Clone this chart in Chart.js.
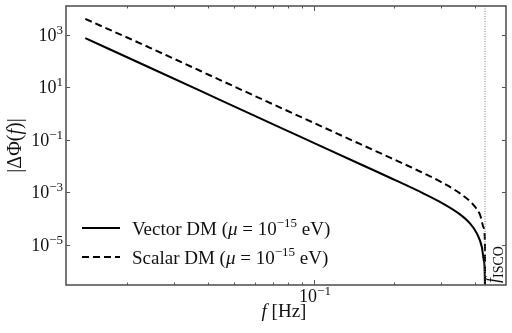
<!DOCTYPE html>
<html>
<head>
<meta charset="utf-8">
<script src="https://cdn.jsdelivr.net/npm/chart.js@4.4.1/dist/chart.umd.min.js"></script>
<style>
  html, body { margin: 0; padding: 0; background: #fff; }
  #wrap { width: 512px; height: 333px; position: relative; }
</style>
</head>
<body>
<div id="wrap"><canvas id="phaseChart"></canvas></div>
<script>
// values
const freqVector  = [0.0139, 0.0243, 0.0374, 0.0575, 0.0887, 0.1486, 0.1927, 0.2494, 0.2965, 0.3523, 0.3838, 0.4074, 0.4256, 0.4334, 0.4370, 0.4372];
const phaseVector = [749, 55.6, 7.43, 0.991, 0.132, 0.0119, 3.56e-3, 1.045e-3, 4.28e-4, 1.43e-4, 6.52e-5, 2.71e-5, 7.96e-6, 2.34e-6, 2.5e-7, 1e-8];

const freqScalar  = [0.0139, 0.0243, 0.0374, 0.0575, 0.0887, 0.1486, 0.1927, 0.2494, 0.2965, 0.3523, 0.3939, 0.4184, 0.4334, 0.4370, 0.4372];
const phaseScalar = [4057, 321, 42.8, 5.71, 0.762, 0.0692, 0.0209, 6.18e-3, 2.58e-3, 9.0e-4, 3.44e-4, 1.43e-4, 4.21e-5, 7.96e-6, 1e-8];

const seriesLabels = ['Vector DM', 'Scalar DM'];
const fISCO = 0.4372;

const xRange = [0.01177, 0.524];
const yRange = [2.9e-7, 1.26e4];

const yTickValues = [1e3, 1e1, 1e-1, 1e-3, 1e-5];
const yTickExponents = ['3', '1', '\u22121', '\u22123', '\u22125'];
const xMajorTicks = [0.1];
const xTickExponents = ['\u22121'];
const xMinorTicks = [0.02, 0.03, 0.04, 0.05, 0.06, 0.07, 0.08, 0.09, 0.2, 0.3, 0.4];

const SERIF = '"Liberation Serif", "DejaVu Serif", serif';
const frameColor = '#555';

function toPoints(xs, ys) {
    return xs.map((x, i) => ({ x: x, y: ys[i] }));
}

// draw a list of text pieces one after another; each piece {t, font, dy}
function drawPieces(ctx, pieces, x, y, align) {
    let total = 0;
    pieces.forEach(p => { ctx.font = p.font; p.w = ctx.measureText(p.t).width; total += p.w; });
    let cx = x;
    if (align === 'right') cx = x - total;
    else if (align === 'center') cx = x - total / 2;
    ctx.textAlign = 'left';
    ctx.textBaseline = 'alphabetic';
    pieces.forEach(p => {
        ctx.font = p.font;
        ctx.fillText(p.t, cx, y + (p.dy || 0));
        cx += p.w;
    });
}

const decorPlugin = {
    id: 'decor',
    afterDatasetsDraw(chart) {
        const { ctx, chartArea: a, scales } = chart;
        const xs = scales.x, ys = scales.y;
        ctx.save();

        // fISCO dotted line
        const xi = xs.getPixelForValue(fISCO);
        ctx.strokeStyle = '#777';
        ctx.lineWidth = 1;
        ctx.setLineDash([1, 1.5]);
        ctx.beginPath();
        ctx.moveTo(xi, a.top);
        ctx.lineTo(xi, a.bottom);
        ctx.stroke();
        ctx.setLineDash([]);

        // frame
        ctx.strokeStyle = frameColor;
        ctx.lineWidth = 1.6;
        ctx.strokeRect(a.left, a.top, a.right - a.left, a.bottom - a.top);

        // inward ticks
        ctx.lineWidth = 1;
        ctx.beginPath();
        yTickValues.forEach(v => {
            const py = Math.round(ys.getPixelForValue(v)) + 0.5;
            ctx.moveTo(a.left, py); ctx.lineTo(a.left + 4, py);
            ctx.moveTo(a.right, py); ctx.lineTo(a.right - 4, py);
        });
        xMajorTicks.forEach(v => {
            const px = Math.round(xs.getPixelForValue(v)) + 0.5;
            ctx.moveTo(px, a.bottom); ctx.lineTo(px, a.bottom - 5);
            ctx.moveTo(px, a.top); ctx.lineTo(px, a.top + 5);
        });
        xMinorTicks.forEach(v => {
            const px = Math.round(xs.getPixelForValue(v)) + 0.5;
            ctx.moveTo(px, a.bottom); ctx.lineTo(px, a.bottom - 2.5);
            ctx.moveTo(px, a.top); ctx.lineTo(px, a.top + 2.5);
        });
        ctx.stroke();

        ctx.fillStyle = '#111';
        // y tick labels
        yTickValues.forEach((v, i) => {
            const py = ys.getPixelForValue(v);
            drawPieces(ctx, [
                { t: '10', font: '18px ' + SERIF, dy: 0 },
                { t: yTickExponents[i], font: '13px ' + SERIF, dy: -7 }
            ], a.left - 3, py + 6, 'right');
        });
        // x tick labels
        xMajorTicks.forEach((v, i) => {
            const px = xs.getPixelForValue(v);
            drawPieces(ctx, [
                { t: '10', font: '18px ' + SERIF, dy: 0 },
                { t: xTickExponents[i], font: '13px ' + SERIF, dy: -7 }
            ], px + 1, a.bottom + 17, 'center');
        });

        // axis titles
        drawPieces(ctx, [
            { t: 'f', font: 'italic 19px ' + SERIF },
            { t: ' [Hz]', font: '19px ' + SERIF }
        ], (a.left + a.right) / 2 - 2, a.bottom + 32, 'center');

        ctx.save();
        ctx.translate(21, (a.top + a.bottom) / 2);
        ctx.rotate(-Math.PI / 2);
        drawPieces(ctx, [
            { t: '|\u0394\u03A6(', font: '20px ' + SERIF },
            { t: 'f', font: 'italic 20px ' + SERIF },
            { t: ')|', font: '20px ' + SERIF }
        ], 0, 0, 'center');
        ctx.restore();

        // fISCO label
        ctx.save();
        ctx.translate(xi + 14, a.bottom - 2);
        ctx.rotate(-Math.PI / 2);
        drawPieces(ctx, [
            { t: 'f', font: 'italic 18px ' + SERIF, dy: 0 },
            { t: 'ISCO', font: '14px ' + SERIF, dy: 4 }
        ], 0, 0, 'left');
        ctx.restore();

        // legend
        const rows = [a.bottom - 57, a.bottom - 28];
        chart.data.datasets.forEach((ds, i) => {
            const ly = rows[i];
            ctx.strokeStyle = '#000';
            ctx.lineWidth = 2;
            ctx.setLineDash(ds.borderDash || []);
            ctx.beginPath();
            ctx.moveTo(a.left + 16, ly);
            ctx.lineTo(a.left + 54, ly);
            ctx.stroke();
            ctx.setLineDash([]);
            drawPieces(ctx, [
                { t: ds.label + ' (', font: '19px ' + SERIF },
                { t: '\u03BC', font: 'italic 19px ' + SERIF },
                { t: ' = 10', font: '19px ' + SERIF },
                { t: '\u221215', font: '13px ' + SERIF, dy: -8 },
                { t: ' eV)', font: '19px ' + SERIF }
            ], a.left + 66, ly + 7, 'left');
        });

        ctx.restore();
    }
};

const ctx = document.getElementById('phaseChart').getContext('2d');
const chart = new Chart(ctx, {
    type: 'line',
    data: {
        datasets: [{
            label: seriesLabels[0],
            data: toPoints(freqVector, phaseVector),
            borderColor: '#000',
            borderWidth: 2,
            pointRadius: 0,
            cubicInterpolationMode: 'monotone'
        }, {
            label: seriesLabels[1],
            data: toPoints(freqScalar, phaseScalar),
            borderColor: '#000',
            borderWidth: 2,
            borderDash: [7, 4],
            pointRadius: 0,
            cubicInterpolationMode: 'monotone'
        }]
    },
    options: {
        responsive: true,
        maintainAspectRatio: false,
        animation: false,
        layout: { padding: { left: 66, right: 6, top: 6, bottom: 48 } },
        scales: {
            x: { type: 'logarithmic', min: xRange[0], max: xRange[1], display: false },
            y: { type: 'logarithmic', min: yRange[0], max: yRange[1], display: false }
        },
        plugins: {
            legend: { display: false },
            tooltip: { enabled: false }
        }
    },
    plugins: [decorPlugin]
});
</script>
</body>
</html>
